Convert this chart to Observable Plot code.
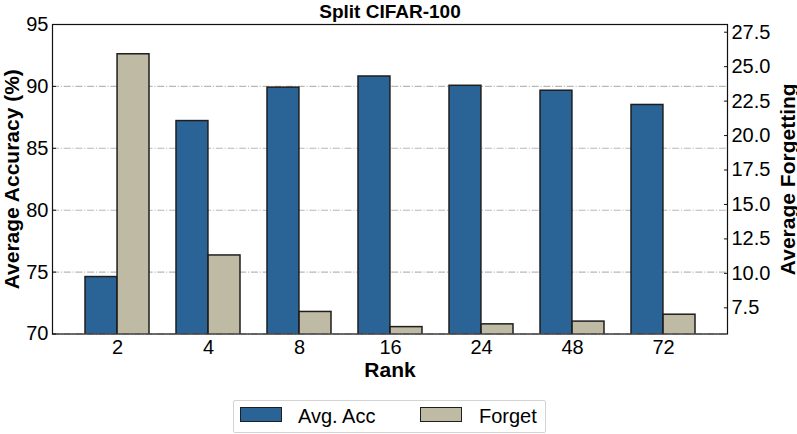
<!DOCTYPE html>
<html><head><meta charset="utf-8">
<script src="https://cdn.jsdelivr.net/npm/d3@7"></script>
<script src="https://cdn.jsdelivr.net/npm/@observablehq/plot@0.6"></script>
<style>
body{margin:0;background:#fff;font-family:"Liberation Sans",Arial,Helvetica,sans-serif;}
#wrap{position:relative;width:797px;height:434px;overflow:hidden;}
#wrap svg{display:block;}
#legend{position:absolute;left:233px;top:400px;width:311px;height:31px;border:1px solid #d3d3d3;border-radius:2px;font-size:20px;color:#000;}
#legend .sw{position:absolute;top:6px;width:40px;height:13px;border:1.4px solid #1e1e1e;}
#legend .lb{position:absolute;top:0;line-height:31px;white-space:nowrap;}
</style></head><body><div id="wrap"></div>
<script>
const ranks = ["2", "4", "8", "16", "24", "48", "72"];
const avgAcc = [74.6, 87.2, 89.9, 90.8, 90.05, 89.65, 88.5];
const forget = [25.9, 11.3, 7.2, 6.1, 6.3, 6.5, 7.0];
const accTicks = [70, 75, 80, 85, 90, 95];
const forgetTicks = [7.5, 10, 12.5, 15, 17.5, 20, 22.5, 25, 27.5];
const series = ["Avg. Acc", "Forget"];
const colors = ["#2a6496", "#bfbaa3"];
const accDomain = [70, 95];
const forgetDomain = [5.6, 28.06];

const rows = ranks.map((r, i) => ({rank: r, acc: avgAcc[i], forget: forget[i]}));
const k = (accDomain[1] - accDomain[0]) / (forgetDomain[1] - forgetDomain[0]);
const fwd = f => accDomain[0] + (f - forgetDomain[0]) * k;
const inv = v => forgetDomain[0] + (v - accDomain[0]) / k;

const W = 797, H = 392, mL = 52, mR = 70, mT = 24, mB = 58.5;
const pIn = 0.3, pOut = 0.334;
const step = (W - mL - mR) / (ranks.length - pIn + 2 * pOut);
const half = step * (1 - pIn) / 2;
const edge = "#1e1e1e";

const chart = Plot.plot({
  width: W, height: H,
  marginLeft: mL, marginRight: mR, marginTop: mT, marginBottom: mB,
  style: {fontFamily: '"Liberation Sans", Arial, Helvetica, sans-serif', fontSize: "20px", color: "#000", background: "#fff", overflow: "visible"},
  x: {type: "band", domain: ranks, paddingInner: pIn, paddingOuter: pOut},
  y: {domain: accDomain},
  marks: [
    Plot.ruleY(accTicks, {stroke: "#b8b8b8", strokeWidth: 1.1, strokeDasharray: "7,1.8,1.1,1.8"}),
    Plot.barY(rows, {x: "rank", y1: () => fwd(0), y2: "acc", fill: colors[0], stroke: edge, strokeWidth: 1.5, insetRight: half, clip: true}),
    Plot.barY(rows, {x: "rank", y1: () => fwd(0), y2: d => fwd(d.forget), fill: colors[1], stroke: edge, strokeWidth: 1.5, insetLeft: half, clip: true}),
    Plot.frame({stroke: "#111", strokeWidth: 1.2}),
    Plot.axisY(accTicks, {anchor: "left", tickSize: 4, dx: 4, tickPadding: 4, label: null, fontSize: 20, stroke: "#111"}),
    Plot.axisY(forgetTicks.map(fwd), {anchor: "right", tickSize: 4, dx: -4, tickPadding: 4, label: null, fontSize: 20, stroke: "#111", tickFormat: v => d3.format(".1f")(inv(v))}),
    Plot.axisX({tickSize: 0, tickPadding: 5.5, label: null, fontSize: 20}),
    Plot.text(["Split CIFAR-100"], {frameAnchor: "top", textAnchor: "middle", lineAnchor: "bottom", dy: -7, fontWeight: "bold", fontSize: 19}),
    Plot.text(["Rank"], {frameAnchor: "bottom", textAnchor: "middle", lineAnchor: "bottom", dy: 43, fontWeight: "bold", fontSize: 21}),
    Plot.text(["Average Accuracy (%)"], {frameAnchor: "left", textAnchor: "middle", lineAnchor: "bottom", rotate: -90, dx: -33.5, fontWeight: "bold", fontSize: 21}),
    Plot.text(["Average Forgetting"], {frameAnchor: "right", textAnchor: "middle", lineAnchor: "bottom", rotate: -90, dx: 67, fontWeight: "bold", fontSize: 21})
  ]
});

const wrap = document.getElementById("wrap");
wrap.appendChild(chart);

const legend = document.createElement("div");
legend.id = "legend";
const swLeft = [6, 186], lbLeft = [64, 245];
series.forEach((s, i) => {
  const sw = document.createElement("div");
  sw.className = "sw";
  sw.style.left = swLeft[i] + "px";
  sw.style.background = colors[i];
  const lb = document.createElement("div");
  lb.className = "lb";
  lb.style.left = lbLeft[i] + "px";
  lb.textContent = s;
  legend.appendChild(sw);
  legend.appendChild(lb);
});
wrap.appendChild(legend);
</script>
</body></html>
